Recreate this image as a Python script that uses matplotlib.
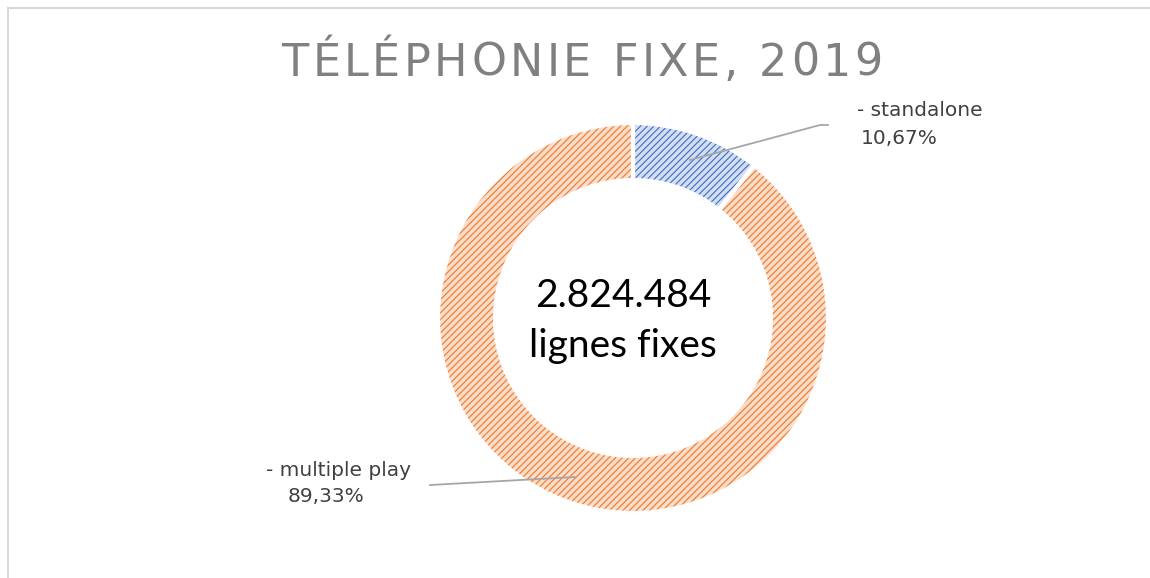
import matplotlib.pyplot as plt
from matplotlib.lines import Line2D

categories = ['- standalone', '- multiple play']
shares = [10.67, 89.33]
total_lines = '2.824.484'
title = 'TÉLÉPHONIE FIXE, 2019'
colors = ['#4472C4', '#ED7D31']
light_colors = ['#D3DEF3', '#FBDDC9']

plt.rcParams['hatch.linewidth'] = 0.85

W, H = 1150, 578
fig = plt.figure(figsize=(W / 100, H / 100), dpi=100)
ax = fig.add_axes([0, 0, 1, 1])

# chart frame, only top and left edges show
fig.lines.append(Line2D([8 / W, 1], [1 - 8 / H, 1 - 8 / H], transform=fig.transFigure,
                        color='#D9D9D9', lw=1.5))
fig.lines.append(Line2D([8 / W, 8 / W], [0, 1 - 8 / H], transform=fig.transFigure,
                        color='#D9D9D9', lw=1.5))

cx, cy, r = 633, H - 318, 195
ring = 57

# hatched fill
wedges, _ = ax.pie(shares, colors=light_colors, startangle=90, counterclock=False,
                   center=(cx, cy), radius=r, frame=True,
                   wedgeprops=dict(width=ring, linewidth=0))
for w, c in zip(wedges, colors):
    w.set_hatch('/////')
    w.set_edgecolor(c)
    w.set_linewidth(0)

# white gaps between slices
ax.pie(shares, colors=['none', 'none'], startangle=90, counterclock=False,
       center=(cx, cy), radius=r, frame=True,
       wedgeprops=dict(width=ring, linewidth=3, edgecolor='white'))
ax.set_xlim(0, W)
ax.set_ylim(0, H)
ax.set_aspect('equal')
ax.axis('off')

# leader lines
ax.plot([690, 820, 828], [H - 160, H - 125, H - 125], color='#A6A6A6', lw=1.3)
ax.plot([430, 575], [H - 485, H - 477], color='#A6A6A6', lw=1.3)

label_font = dict(fontsize=14.5, color='#404040', family='DejaVu Sans', va='center', ha='left')
ax.text(857, H - 111, categories[0], **label_font)
ax.text(861, H - 139, f'{shares[0]:.2f}%'.replace('.', ','), **label_font)
ax.text(266, H - 471, categories[1], **label_font)
ax.text(288, H - 497, f'{shares[1]:.2f}%'.replace('.', ','), **label_font)

ax.text(623, H - 321, f'{total_lines}\nlignes fixes', ha='center', va='center',
        fontsize=28, color='black', family='Lato', linespacing=1.5)

# title with letter spacing, one glyph at a time
renderer = fig.canvas.get_renderer()
tfont = dict(fontsize=32, color='#808080', family='DejaVu Sans')
tracking = 3.5
glyphs = [fig.text(0, 0, ch, va='baseline', ha='left', **tfont) for ch in title]
space_w = 0.318 * 32 * 100 / 72
widths = []
for g, ch in zip(glyphs, title):
    widths.append(space_w if ch == ' ' else g.get_window_extent(renderer).width)
total = sum(widths) + tracking * (len(title) - 1)
x = 582 - total / 2
for g, w in zip(glyphs, widths):
    g.set_position((x / W, 1 - 76 / H))
    x += w + tracking

fig.savefig('out.png', dpi=100)
